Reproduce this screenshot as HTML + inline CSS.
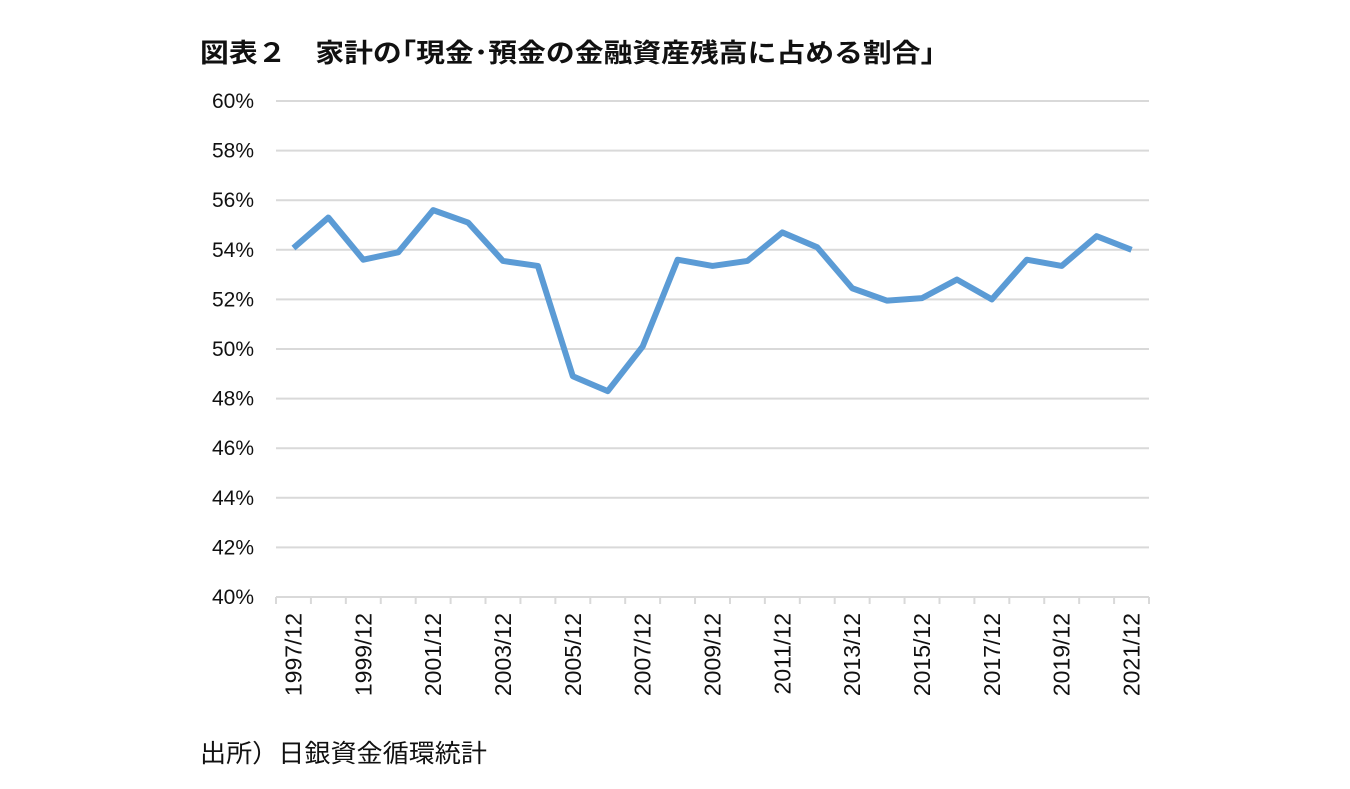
<!DOCTYPE html>
<html><head><meta charset="utf-8"><style>
body{margin:0;background:#fff;}
svg{display:block;font-family:"Liberation Sans","Noto Sans CJK JP",sans-serif;}
</style></head><body>
<svg width="1350" height="789">
<text x="200" y="62" font-size="26" font-weight="bold" fill="#111" textLength="735" lengthAdjust="spacingAndGlyphs">図表２　家計の｢現金･預金の金融資産残高に占める割合｣</text>
<g id="grid"></g><g id="yt"></g><g id="xt"></g>
<path id="line" fill="none" stroke="#5b9bd5" stroke-width="6" stroke-linejoin="round"/>
<text x="200" y="762" font-size="25" fill="#111" textLength="287" lengthAdjust="spacingAndGlyphs">出所）日銀資金循環統計</text>
</svg>
<script>
const years=[1997,1998,1999,2000,2001,2002,2003,2004,2005,2006,2007,2008,2009,2010,2011,2012,2013,2014,2015,2016,2017,2018,2019,2020,2021];
const values=[54.07,55.3,53.6,53.9,55.6,55.1,53.55,53.35,48.9,48.3,50.1,53.6,53.35,53.55,54.7,54.1,52.45,51.95,52.05,52.8,52.0,53.6,53.35,54.55,54.0];
const yTicks=[40,42,44,46,48,50,52,54,56,58,60];
const NS='http://www.w3.org/2000/svg';
const x0=276,x1=1149,yb=597,yt=101,ymin=40,ymax=60;
const bw=(x1-x0)/years.length;
const X=i=>x0+(i+0.5)*bw;
const Y=v=>yb-(v-ymin)/(ymax-ymin)*(yb-yt);
const g=document.getElementById('grid'),gy=document.getElementById('yt'),gx=document.getElementById('xt');
function mk(tag,attrs,parent){const e=document.createElementNS(NS,tag);for(const k in attrs)e.setAttribute(k,attrs[k]);parent.appendChild(e);return e;}
yTicks.forEach(t=>{
 const l=mk('line',{x1:x0,x2:x1,y1:Y(t),y2:Y(t),stroke:'#d9d9d9','stroke-width':2},g);
 
 
 const tx=mk('text',{x:254,y:Y(t)+7,'font-size':21,'text-anchor':'end',fill:'#111'},gy);
 tx.textContent=t+'%';
 
 
});
for(let i=0;i<=years.length;i++){
 const l=mk('line',{x1:x0+i*bw,x2:x0+i*bw,y1:yb,y2:yb+7,stroke:'#d9d9d9','stroke-width':2},g);
 
 
}
years.forEach((y,i)=>{
 if(i%2)return;
 const tx=mk('text',{x:0,y:0,'font-size':23,'text-anchor':'end',fill:'#111',transform:`translate(${X(i)+8},613) rotate(-90)`},gx);
 tx.textContent=y+'/12';
 
 
});
document.getElementById('line').setAttribute('d',values.map((v,i)=>(i?'L':'M')+X(i)+','+Y(v)).join(''));
</script>
</body></html>
